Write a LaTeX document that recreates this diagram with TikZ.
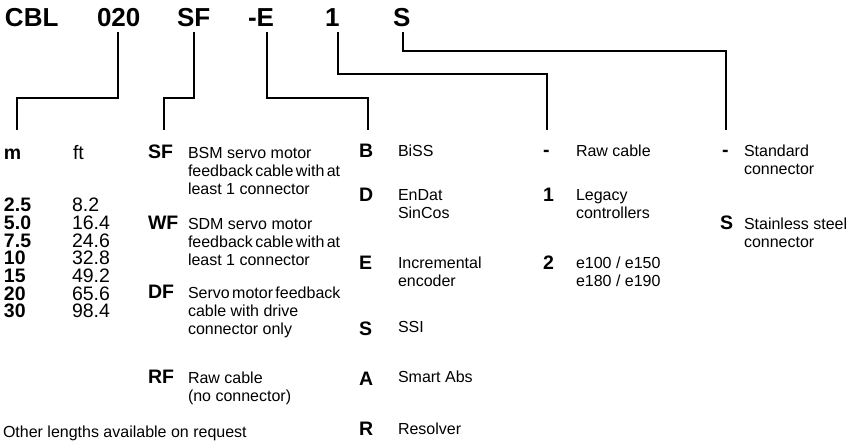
\documentclass[tikz,border=0pt]{standalone}
\usepackage{fontspec}
\setmainfont{Liberation Sans}
\newcommand\tsp{\hspace{2.4pt}}
\begin{document}
\begin{tikzpicture}[x=1pt,y=-1pt,
  every node/.style={inner sep=0pt, outer sep=0pt, anchor=base west},
  ttl/.style={font=\fontsize{26}{30}\bfseries\selectfont, text depth=0pt},
  lbl/.style={font=\fontsize{19.5}{20}\bfseries\selectfont},
  num/.style={font=\fontsize{19.5}{17.7}\bfseries\selectfont, align=left},
  numr/.style={font=\fontsize{19.5}{17.7}\selectfont, align=left},
  txt/.style={font=\fontsize{16}{18}\selectfont, align=left},
  lead/.style={line width=2.2pt, line cap=rect}]
\useasboundingbox (0,0) rectangle (849,443);
% title
\node[ttl] (tCBL) at (5,26.5) {CBL};
\node[ttl] (t020) at (97,26.5) {020};
\node[ttl] (tSF) at (177,26.5) {SF};
\node[ttl, anchor=base east] (tE) at (274,26.5) {-E};
\node[ttl] (t1) at (325,26.5) {1};
\node[ttl] (tS) at (393,26.5) {S};
% bends and ends
\coordinate (k1) at (17,97.7);   \coordinate (b1) at (17,129);
\coordinate (k2) at (164,97.7);  \coordinate (b2) at (164,129);
\coordinate (k3) at (368,97.7);  \coordinate (b3) at (368,129);
\coordinate (k4) at (547,74);    \coordinate (b4) at (547,129);
\coordinate (k5) at (726,50.7);  \coordinate (b5) at (726,129);
\draw[lead] (t020.south) ++(-1,6.5) |- (k1) -- (b1);
\draw[lead] (tSF.south) ++(0,6.5) |- (k2) -- (b2);
\draw[lead] (tE.south east) ++(-7,6.5) |- (k3) -- (b3);
\draw[lead] (t1.south east) ++(-1.5,6.5) |- (k4) -- (b4);
\draw[lead] (tS.south) ++(1.5,6.5) |- (k5) -- (b5);
% column 1 (multi-line nodes: base = last line)
\node[lbl] (m) at (4,160) {m};
\node[numr] (ft) at (73,160) {ft};
\node[num] (mvals) at (4,318) {2.5\\5.0\\7.5\\10\\15\\20\\30};
\node[numr] (fvals) at (72,318) {8.2\\16.4\\24.6\\32.8\\49.2\\65.6\\98.4};
\node[txt] (other) at (3,438) {Other lengths available on request};
% column 2
\node[lbl] (lSF) at (148,159) {SF};
\node[txt] (xSF) at (188,195) {BSM servo motor\\feedback\tsp cable\tsp with\tsp at\\least 1 connector};
\node[lbl] (lWF) at (148,230) {WF};
\node[txt] (xWF) at (188,266) {SDM servo motor\\feedback\tsp cable\tsp with\tsp at\\least 1 connector};
\node[lbl] (lDF) at (148,299) {DF};
\node[txt] (xDF) at (188,335) {Servo\tsp motor\tsp feedback\\cable with drive\\connector only};
\node[lbl] (lRF) at (148,384) {RF};
\node[txt] (xRF) at (188,402) {Raw cable\\(no connector)};
% column 3
\node[lbl] (lB) at (359,158) {B};  \node[txt] (xB) at (398,157) {BiSS};
\node[lbl] (lD) at (359,202) {D};  \node[txt] (xD) at (398,219) {EnDat\\SinCos};
\node[lbl] (lE) at (359,270) {E};  \node[txt] (xE) at (398,287) {Incremental\\encoder};
\node[lbl] (lS) at (359,336) {S};  \node[txt] (xS) at (398,333) {SSI};
\node[lbl] (lA) at (359,386) {A};  \node[txt] (xA) at (398,383) {Smart Abs};
\node[lbl] (lR) at (359,436) {R};  \node[txt] (xR) at (398,435) {Resolver};
% column 4
\node[lbl] (l4a) at (543,157) {-};  \node[txt] (x4a) at (576,157) {Raw cable};
\node[lbl] (l4b) at (543,202) {1};  \node[txt] (x4b) at (576,219) {Legacy\\controllers};
\node[lbl] (l4c) at (543,270) {2};  \node[txt] (x4c) at (576,287) {e100 / e150\\e180 / e190};
% column 5
\node[lbl] (l5a) at (722,157) {-};  \node[txt] (x5a) at (744,175) {Standard\\connector};
\node[lbl] (l5b) at (720,230) {S};  \node[txt] (x5b) at (744,248) {Stainless steel\\connector};
\end{tikzpicture}
\end{document}
